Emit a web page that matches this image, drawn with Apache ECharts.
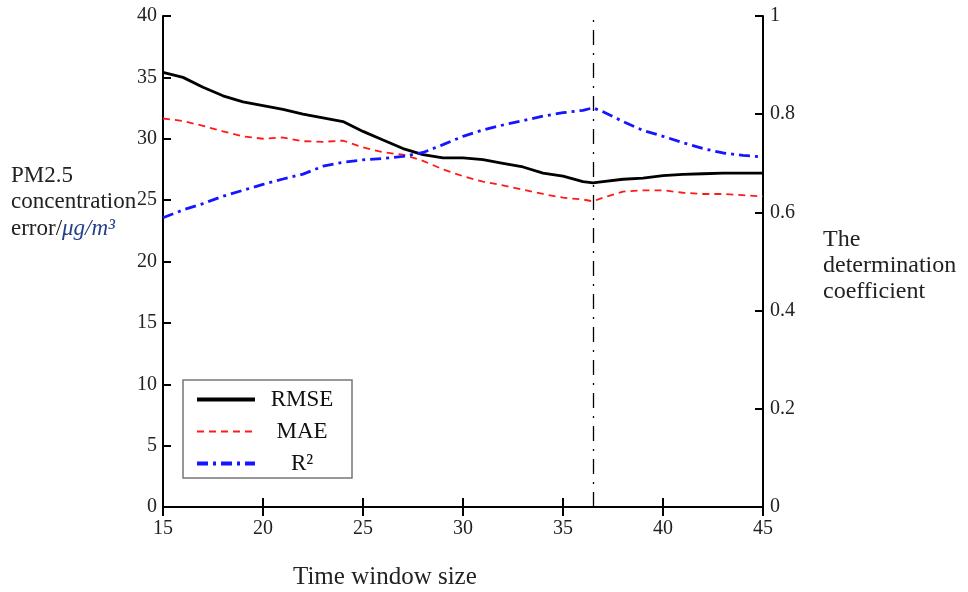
<!DOCTYPE html>
<html>
<head>
<meta charset="utf-8">
<script src="https://cdn.jsdelivr.net/npm/echarts@6/dist/echarts.min.js"></script>
<style>
html,body{margin:0;padding:0;background:#fff;}
#chart{width:968px;height:592px;}
</style>
</head>
<body>
<div id="chart"></div>
<script>
const windowSizes = [15,16,17,18,19,20,21,22,23,24,25,26,27,28,29,30,31,32,33,34,35,36,36.5,37,38,39,40,41,42,43,44,45];
const rmse = [35.4,35.0,34.2,33.5,33.0,32.7,32.4,32.0,31.7,31.4,30.6,29.9,29.2,28.7,28.45,28.45,28.3,28.0,27.7,27.2,26.95,26.5,26.4,26.5,26.7,26.8,27.0,27.1,27.15,27.2,27.2,27.2];
const mae = [31.65,31.45,31.05,30.6,30.2,30.0,30.1,29.8,29.75,29.85,29.3,28.9,28.7,28.2,27.5,26.95,26.5,26.2,25.85,25.5,25.2,25.05,24.9,25.2,25.7,25.8,25.8,25.6,25.5,25.5,25.4,25.3];
const r2 = [0.589,0.605,0.618,0.633,0.645,0.657,0.668,0.678,0.694,0.702,0.707,0.710,0.714,0.722,0.738,0.755,0.768,0.778,0.787,0.796,0.803,0.808,0.813,0.805,0.785,0.767,0.755,0.742,0.730,0.721,0.716,0.713];
const optimalWindow = 36.5;
const seriesNames = ['RMSE','MAE','R²'];

const FONT = 'Liberation Serif';
const pairs = arr => windowSizes.map((x,i)=>[x,arr[i]]);
const chart = echarts.init(document.getElementById('chart'));
const axisLine = {show:true, lineStyle:{color:'#000', width:2}};
const tick = {show:true, inside:true, length:9, lineStyle:{color:'#000', width:2}};
const lbl = {color:'#222', fontFamily:FONT, fontSize:20};

chart.setOption({
  backgroundColor:'#fff',
  animation:false,
  grid:{left:163, right:205, top:16, bottom:85},
  xAxis:[
    {type:'value', min:15, max:45, interval:5, position:'bottom',
     axisLine, axisTick:tick, splitLine:{show:false},
     axisLabel:Object.assign({margin:12}, lbl)},
    {type:'value', min:15, max:45, interval:5, position:'top',
     axisLine, axisTick:tick, splitLine:{show:false}, axisLabel:{show:false}}
  ],
  yAxis:[
    {type:'value', min:0, max:40, interval:5, position:'left',
     axisLine, axisTick:Object.assign({}, tick, {length:8}), splitLine:{show:false},
     axisLabel:Object.assign({margin:6}, lbl)},
    {type:'value', min:0, max:1, interval:0.2, position:'right',
     axisLine, axisTick:Object.assign({}, tick, {length:8}), splitLine:{show:false},
     axisLabel:Object.assign({margin:7, formatter:v=>String(+v.toFixed(1))}, lbl)}
  ],
  legend:{
    orient:'vertical', left:183, top:380,
    padding:[8,8,3,12],
    borderColor:'#777', borderWidth:1.5,
    itemWidth:58, itemHeight:14, itemGap:9,
    itemStyle:{opacity:0},
    data:[
      {name:seriesNames[0], lineStyle:{width:4}},
      {name:seriesNames[1]},
      {name:seriesNames[2], lineStyle:{width:4}}
    ],
    formatter: n => '{a|'+n+'}',
    textStyle:{fontFamily:FONT, fontSize:23, color:'#111',
      rich:{a:{width:84, align:'center', fontFamily:FONT, fontSize:23, lineHeight:22}}}
  },
  series:[
    {name:seriesNames[0], type:'line', xAxisIndex:0, yAxisIndex:0, data:pairs(rmse),
     symbol:'none', lineStyle:{color:'#000', width:2.8}, itemStyle:{color:'#000'},
     markLine:{silent:true, symbol:'none', label:{show:false},
       lineStyle:{color:'#000', width:1.3, type:[15,8,2,8]},
       data:[{xAxis:optimalWindow}]}},
    {name:seriesNames[1], type:'line', xAxisIndex:0, yAxisIndex:0, data:pairs(mae),
     symbol:'none', lineStyle:{color:'#ff1a1a', width:1.8, type:[7,5]}, itemStyle:{color:'#ff1a1a'}},
    {name:seriesNames[2], type:'line', xAxisIndex:0, yAxisIndex:1, data:pairs(r2),
     symbol:'none', lineStyle:{color:'#1515ff', width:2.8, type:[11,5,3,5]}, itemStyle:{color:'#1515ff'}}
  ],
  graphic:[
    {type:'text', left:11, top:164, style:{text:'PM2.5', fontFamily:FONT, fontSize:23, fill:'#222'}},
    {type:'text', left:11, top:190, style:{text:'concentration', fontFamily:FONT, fontSize:23, fill:'#222'}},
    {type:'text', left:11, top:217, style:{text:'{n|error/}{m|μg/m³}', fontFamily:FONT, fontSize:23, fill:'#222',
      rich:{n:{fontFamily:FONT, fontSize:23, fill:'#222'}, m:{fontFamily:FONT, fontSize:23, fontStyle:'italic', fill:'#24408a'}}}},
    {type:'text', left:823, top:228, style:{text:'The', fontFamily:FONT, fontSize:24, fill:'#222'}},
    {type:'text', left:823, top:254, style:{text:'determination', fontFamily:FONT, fontSize:24, fill:'#222'}},
    {type:'text', left:823, top:280, style:{text:'coefficient', fontFamily:FONT, fontSize:24, fill:'#222'}},
    {type:'text', left:293, top:565, style:{text:'Time window size', fontFamily:FONT, fontSize:25, fill:'#222'}}
  ]
});
</script>
</body>
</html>
